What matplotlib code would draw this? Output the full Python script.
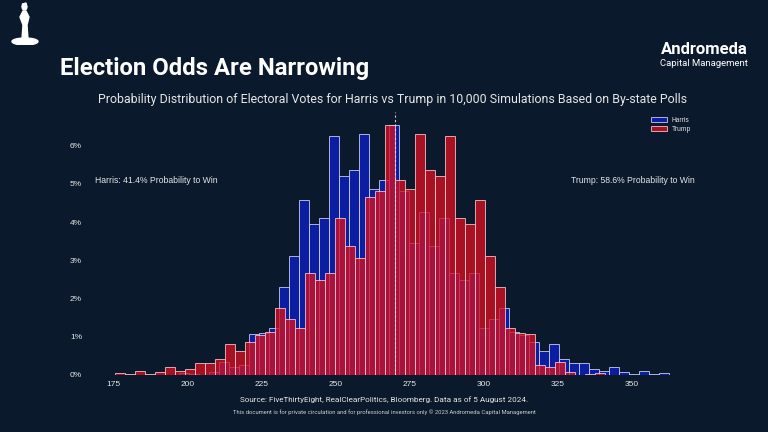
import numpy as np
import matplotlib
matplotlib.use("Agg")
import matplotlib.pyplot as plt
from matplotlib.patches import Ellipse, Polygon

# ---------------- data ----------------
ev_min_trump, ev_max_trump = 175.7, 361.1
ev_min_harris, ev_max_harris = 176.9, 362.3
n_bins = 55

harris_pct = [0.01, 0.0, 0.0, 0.0, 0.0, 0.01, 0.05, 0.02, 0.0, 0.07,
              0.33, 0.20, 0.26, 1.07, 1.11, 1.22, 2.29, 3.12, 4.58, 3.94,
              4.10, 6.24, 5.20, 5.37, 6.29, 4.86, 5.11, 6.55, 4.82, 3.45,
              4.25, 3.36, 4.10, 2.66, 2.49, 2.66, 1.22, 1.46, 1.75, 1.12,
              1.05, 0.87, 0.62, 0.81, 0.41, 0.31, 0.31, 0.15, 0.10, 0.20,
              0.08, 0.03, 0.10, 0.03, 0.05]
trump_pct = [0.05, 0.03, 0.10, 0.03, 0.08, 0.20, 0.10, 0.15, 0.31, 0.31,
             0.41, 0.81, 0.62, 0.87, 1.05, 1.12, 1.75, 1.46, 1.22, 2.66,
             2.49, 2.66, 4.10, 3.36, 3.06, 4.65, 4.80, 6.55, 5.11, 4.86,
             6.29, 5.37, 5.20, 6.24, 4.10, 3.94, 4.58, 3.12, 2.29, 1.22,
             1.11, 1.07, 0.26, 0.20, 0.33, 0.07, 0.0, 0.02, 0.05, 0.0,
             0.0, 0.0, 0.0, 0.0, 0.01]
win_threshold = 270
x_ticks = [175, 200, 225, 250, 275, 300, 325, 350]
y_ticks = [0, 1, 2, 3, 4, 5, 6]
harris_label = "Harris: 41.4% Probability to Win"
trump_label = "Trump: 58.6% Probability to Win"

# ---------------- style ----------------
BG = "#0b192c"
TXT = "#e6e6e6"
CHART_FONT = ["Liberation Sans", "DejaVu Sans"]
HEAD_FONT = ["Roboto", "DejaVu Sans"]

fig = plt.figure(figsize=(7.68, 4.32), dpi=100, facecolor=BG)
ax = fig.add_axes([0.114, 0.132, 0.792, 0.609])
ax.set_facecolor(BG)

t_edges = np.linspace(ev_min_trump, ev_max_trump, n_bins + 1)
h_edges = np.linspace(ev_min_harris, ev_max_harris, n_bins + 1)

ax.bar(h_edges[:-1], harris_pct, width=np.diff(h_edges), align="edge",
       color="#0c20c0", alpha=0.8, edgecolor="#d8d8ff", linewidth=0.7,
       label="Harris")
ax.bar(t_edges[:-1], trump_pct, width=np.diff(t_edges), align="edge",
       color="#d41020", alpha=0.78, edgecolor="#ffd0d8", linewidth=0.7,
       label="Trump")

ax.axvline(win_threshold, color="#e0e0e0", linestyle=(0, (2, 2)),
           linewidth=0.8, alpha=0.9)

ax.set_xlim(166.4, 371.5)
ax.set_ylim(0, 6.88)
ax.set_xticks(x_ticks)
ax.set_xticklabels([str(v) for v in x_ticks])
ax.set_yticks(y_ticks)
ax.set_yticklabels([f"{v}%" for v in y_ticks])
ax.tick_params(length=0, colors=TXT, labelsize=6, pad=4)
for lab in ax.get_xticklabels() + ax.get_yticklabels():
    lab.set_family(CHART_FONT)
for s in ax.spines.values():
    s.set_visible(False)

ax.text(168.9, 5.08, harris_label, color=TXT, fontsize=6.2,
        family=CHART_FONT, ha="left", va="center")
ax.text(371.0, 5.08, trump_label, color=TXT, fontsize=6.2,
        family=CHART_FONT, ha="right", va="center")

leg = ax.legend(loc="upper right", frameon=False,
                handlelength=2.4, handleheight=0.8, labelspacing=0.3,
                borderaxespad=0.3, prop={"family": CHART_FONT, "size": 4.8})
for t in leg.get_texts():
    t.set_color(TXT)

# ---------------- headings ----------------
fig.text(60 / 768, 1 - 68 / 432, "Election Odds Are Narrowing",
         color="white", fontsize=17.2, fontweight="bold", family=HEAD_FONT,
         ha="left", va="center")
fig.text(392 / 768, 1 - 100 / 432,
         "Probability Distribution of Electoral Votes for Harris vs Trump in 10,000 Simulations Based on By-state Polls",
         color=TXT, fontsize=8.9, family=HEAD_FONT, ha="center", va="center")
fig.text(748 / 768, 1 - 49 / 432, "Andromeda", color="white", fontsize=12,
         fontweight="bold", family=HEAD_FONT, ha="right", va="center")
fig.text(748 / 768, 1 - 63 / 432, "Capital Management", color="white",
         fontsize=6.8, family=HEAD_FONT, ha="right", va="center")

fig.text(384 / 768, 1 - 400 / 432,
         "Source: FiveThirtyEight, RealClearPolitics, Bloomberg. Data as of 5 August 2024.",
         color=TXT, fontsize=5.9, family=HEAD_FONT, ha="center", va="center")
fig.text(384 / 768, 1 - 412 / 432,
         "This document is for private circulation and for professional investors only \u00a9 2023 Andromeda Capital Management",
         color="#cfcfcf", fontsize=4.2, family=HEAD_FONT, ha="center", va="center")

# ---------------- small logo ----------------
lx = fig.add_axes([0.0, 1 - 45 / 432, 50 / 768, 45 / 432])
lx.set_xlim(0, 50)
lx.set_ylim(0, 45)
lx.axis("off")
lx.add_patch(Ellipse((25, 3.5), 26, 7, color="white"))
lx.add_patch(Polygon([[22, 6], [28, 6], [27, 20], [29, 28], [26, 34],
                      [23, 34], [20, 28], [23, 20]], color="white"))
lx.add_patch(Ellipse((24.5, 37.5), 4.5, 5, color="white"))
lx.add_patch(Polygon([[22, 38], [27, 38], [26, 42], [22.5, 41]], color="white"))

fig.savefig("out.png", dpi=100, facecolor=BG)
